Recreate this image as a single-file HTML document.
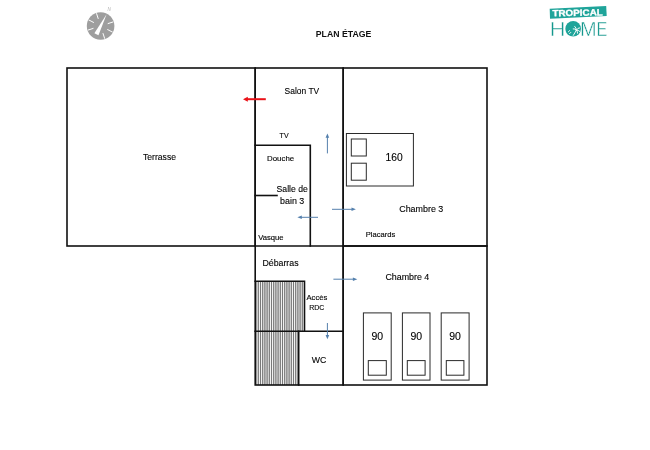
<!DOCTYPE html>
<html lang="fr">
<head>
<meta charset="utf-8">
<title>Plan étage</title>
<style>
html,body{margin:0;padding:0;background:#fff;}
body{width:650px;height:450px;overflow:hidden;font-family:"Liberation Sans",sans-serif;}
svg{display:block;position:absolute;left:0;top:0;}
text{font-family:"Liberation Sans",sans-serif;fill:#000;}
.lb text{stroke:#000;stroke-width:0.12;}
.w{stroke:#111;stroke-width:1.6;fill:none;stroke-linecap:square;}
.f{stroke:#2a2a2a;stroke-width:1;fill:#fff;}
.b{stroke:#5580ad;stroke-width:1;fill:none;}
.bh{fill:#5580ad;stroke:none;}
.hm text{fill:#14978d;stroke:#fff;stroke-width:0.5;}
</style>
</head>
<body>
<svg width="650" height="450" viewBox="0 0 650 450">
<rect x="0" y="0" width="650" height="450" fill="#fff"/>

<!-- compass -->
<g id="compass">
<circle cx="100.6" cy="26" r="13.8" fill="#9e9e9e"/>
<g transform="translate(100.6 26) rotate(27)" stroke="#fff" stroke-width="0.9" fill="none">
<line x1="0" y1="-13.4" x2="0" y2="-7.5" transform="rotate(45)"/>
<line x1="0" y1="-13.4" x2="0" y2="-7.5" transform="rotate(90)"/>
<line x1="0" y1="-13.4" x2="0" y2="-7.5" transform="rotate(135)"/>
<line x1="0" y1="-13.4" x2="0" y2="-7.5" transform="rotate(225)"/>
<line x1="0" y1="-13.4" x2="0" y2="-7.5" transform="rotate(270)"/>
<line x1="0" y1="-13.4" x2="0" y2="-7.5" transform="rotate(315)"/>
<polygon points="0,-13.2 2.3,9.2 -2.3,9.2" fill="#fff" stroke="none"/>
</g>
<text x="107.6" y="11" font-size="4.5" font-style="italic" style="fill:#b0b0b0;filter:grayscale(1)">N</text>
</g>

<!-- title -->
<text style="filter:grayscale(1);fill:#111" x="315.8" y="37.2" font-size="9.1" font-weight="bold" textLength="55.5" lengthAdjust="spacingAndGlyphs">PLAN ÉTAGE</text>

<!-- logo -->
<g id="logo">
<polygon points="549.7,8.8 606.2,6 606.7,15.9 550,18.8" fill="#1fa49a"/>
<text x="552.4" y="16.3" font-size="9" font-weight="bold" textLength="50.4" lengthAdjust="spacingAndGlyphs" transform="rotate(-1.1 552.4 16.3)" style="fill:#fff;stroke:#fff;stroke-width:0.3;filter:saturate(1.001)">TROPICAL</text>
<g class="hm" font-size="20.9" style="filter:saturate(1.001)">
<text y="36.3"><tspan x="549.7" textLength="15.7" lengthAdjust="spacingAndGlyphs">H</tspan><tspan x="564.5" textLength="16" lengthAdjust="spacingAndGlyphs">O</tspan><tspan x="580" textLength="16.6" lengthAdjust="spacingAndGlyphs">M</tspan><tspan x="596.4" textLength="10.8" lengthAdjust="spacingAndGlyphs">E</tspan></text>
</g>
<circle cx="573.2" cy="28.65" r="7.75" fill="#1fa49a"/>
<g stroke="#fff" stroke-width="0.95" fill="none" stroke-linecap="round">
<path d="M573.3 35.4 Q574.8 33 576.4 30.2"/>
<path d="M576.4 30.2 Q575 28.4 573.2 28.8"/>
<path d="M576.4 30.2 Q576.4 27.6 574.8 26.4"/>
<path d="M576.4 30.2 Q577.8 27.6 579.6 27.8"/>
<path d="M576.4 30.2 Q578.6 29.8 579.8 31.4"/>
<path d="M576.4 30.2 Q577.8 31.6 577.6 33.2"/>
<path d="M568.4 31.8 L569.6 30.6 M569.6 33.6 L570.8 32.4"/>
</g>
</g>

<!-- stairs hatch -->
<g id="hatch" fill="none">
<path d="M256.10 281.2V331.2M258.30 281.2V331.2M260.50 281.2V331.2M262.70 281.2V331.2M264.90 281.2V331.2M267.10 281.2V331.2M269.30 281.2V331.2M271.50 281.2V331.2M273.70 281.2V331.2M275.90 281.2V331.2M278.10 281.2V331.2M280.30 281.2V331.2M282.50 281.2V331.2M284.70 281.2V331.2M286.90 281.2V331.2M289.10 281.2V331.2M291.30 281.2V331.2M293.50 281.2V331.2M295.70 281.2V331.2M297.90 281.2V331.2M300.10 281.2V331.2M302.30 281.2V331.2M256.10 331.2V385M258.30 331.2V385M260.50 331.2V385M262.70 331.2V385M264.90 331.2V385M267.10 331.2V385M269.30 331.2V385M271.50 331.2V385M273.70 331.2V385M275.90 331.2V385M278.10 331.2V385M280.30 331.2V385M282.50 331.2V385M284.70 331.2V385M286.90 331.2V385M289.10 331.2V385M291.30 331.2V385M293.50 331.2V385M295.70 331.2V385M297.90 331.2V385" stroke="#9e9e9e" stroke-width="1.3"/>
<path d="M256.10 281.2V331.2M258.30 281.2V331.2M260.50 281.2V331.2M262.70 281.2V331.2M264.90 281.2V331.2M267.10 281.2V331.2M269.30 281.2V331.2M271.50 281.2V331.2M273.70 281.2V331.2M275.90 281.2V331.2M278.10 281.2V331.2M280.30 281.2V331.2M282.50 281.2V331.2M284.70 281.2V331.2M286.90 281.2V331.2M289.10 281.2V331.2M291.30 281.2V331.2M293.50 281.2V331.2M295.70 281.2V331.2M297.90 281.2V331.2M300.10 281.2V331.2M302.30 281.2V331.2M256.10 331.2V385M258.30 331.2V385M260.50 331.2V385M262.70 331.2V385M264.90 331.2V385M267.10 331.2V385M269.30 331.2V385M271.50 331.2V385M273.70 331.2V385M275.90 331.2V385M278.10 331.2V385M280.30 331.2V385M282.50 331.2V385M284.70 331.2V385M286.90 331.2V385M289.10 331.2V385M291.30 331.2V385M293.50 331.2V385M295.70 331.2V385M297.90 331.2V385" stroke="#606060" stroke-width="0.6"/>
</g>

<!-- walls -->
<g class="w">
<rect x="67" y="68" width="188.2" height="178"/>
<rect x="255.2" y="68" width="88" height="317"/>
<rect x="343.2" y="68" width="143.8" height="178"/>
<rect x="343.2" y="246" width="143.8" height="139"/>
<path d="M255.2 145.3 H310.3 V246"/>
<path d="M255.2 195.5 H277"/>
<path d="M255.2 246 H343.2"/>
<path d="M255.2 281.2 H304.5 V331.2"/>
<path d="M255.2 331.2 H343.2"/>
<path d="M298.7 331.2 V385"/>
</g>

<!-- furniture -->
<g class="f">
<rect x="346.4" y="133.5" width="67" height="52.5"/>
<rect x="351.3" y="139" width="15" height="17"/>
<rect x="351.3" y="163.2" width="15" height="17"/>
<rect x="363.4" y="312.9" width="27.8" height="67.2"/>
<rect x="402.4" y="312.9" width="27.6" height="67.2"/>
<rect x="441.2" y="312.9" width="27.9" height="67.2"/>
<rect x="368.3" y="360.6" width="18" height="14.6"/>
<rect x="407.3" y="360.6" width="17.8" height="14.6"/>
<rect x="446.3" y="360.6" width="17.6" height="14.6"/>
</g>

<!-- arrows -->
<g>
<line x1="246.5" y1="99.2" x2="265.8" y2="99.2" stroke="#ea1218" stroke-width="2"/>
<polygon points="243,99.2 247.8,96.7 247.8,101.7" fill="#ea1218"/>
</g>
<g>
<line class="b" x1="327.4" y1="136" x2="327.4" y2="153.4"/><polygon class="bh" points="327.4,133.5 329.2,137.8 325.6,137.8"/>
<line class="b" x1="300" y1="217.3" x2="318" y2="217.3"/><polygon class="bh" points="297.4,217.3 301.8,215.5 301.8,219.1"/>
<line class="b" x1="332" y1="209.3" x2="353.4" y2="209.3"/><polygon class="bh" points="355.9,209.3 351.5,207.5 351.5,211.1"/>
<line class="b" x1="333.4" y1="279.2" x2="354.8" y2="279.2"/><polygon class="bh" points="357.3,279.2 352.9,277.4 352.9,281"/>
<line class="b" x1="327.4" y1="323" x2="327.4" y2="336.8"/><polygon class="bh" points="327.4,339.3 329.2,335 325.6,335"/>
</g>

<!-- labels -->
<g class="lb" style="filter:grayscale(1)">
<text x="143.0" y="159.6" font-size="9.1" textLength="33.0" lengthAdjust="spacingAndGlyphs">Terrasse</text>
<text x="284.6" y="93.9" font-size="9.3" textLength="34.6" lengthAdjust="spacingAndGlyphs">Salon TV</text>
<text x="279.6" y="137.6" font-size="7.3" textLength="9.0" lengthAdjust="spacingAndGlyphs">TV</text>
<text x="267.0" y="160.8" font-size="7.2" textLength="27.2" lengthAdjust="spacingAndGlyphs">Douche</text>
<text x="276.6" y="191.6" font-size="8.9" textLength="31.2" lengthAdjust="spacingAndGlyphs">Salle de</text>
<text x="280.1" y="204" font-size="8.9" textLength="24.2" lengthAdjust="spacingAndGlyphs">bain 3</text>
<text x="258.3" y="240" font-size="6.9" textLength="25.3" lengthAdjust="spacingAndGlyphs">Vasque</text>
<text x="262.4" y="265.8" font-size="8.6" textLength="36.2" lengthAdjust="spacingAndGlyphs">Débarras</text>
<text x="306.5" y="299.8" font-size="7.3" textLength="20.9" lengthAdjust="spacingAndGlyphs">Accès</text>
<text x="309.2" y="310.4" font-size="7.3" textLength="15.1" lengthAdjust="spacingAndGlyphs">RDC</text>
<text x="311.8" y="362.9" font-size="9.1" textLength="14.6" lengthAdjust="spacingAndGlyphs">WC</text>
<text x="385.6" y="161.2" font-size="10.2" textLength="17.1" lengthAdjust="spacingAndGlyphs">160</text>
<text x="399.2" y="211.7" font-size="8.9" textLength="44.1" lengthAdjust="spacingAndGlyphs">Chambre 3</text>
<text x="365.7" y="237.3" font-size="7.5" textLength="29.6" lengthAdjust="spacingAndGlyphs">Placards</text>
<text x="385.4" y="279.8" font-size="8.9" textLength="43.9" lengthAdjust="spacingAndGlyphs">Chambre 4</text>
<text x="371.5" y="340" font-size="10.2" textLength="11.7" lengthAdjust="spacingAndGlyphs">90</text>
<text x="410.4" y="340" font-size="10.2" textLength="11.7" lengthAdjust="spacingAndGlyphs">90</text>
<text x="449.2" y="340" font-size="10.2" textLength="11.7" lengthAdjust="spacingAndGlyphs">90</text>
</g>
</svg>
</body>
</html>
